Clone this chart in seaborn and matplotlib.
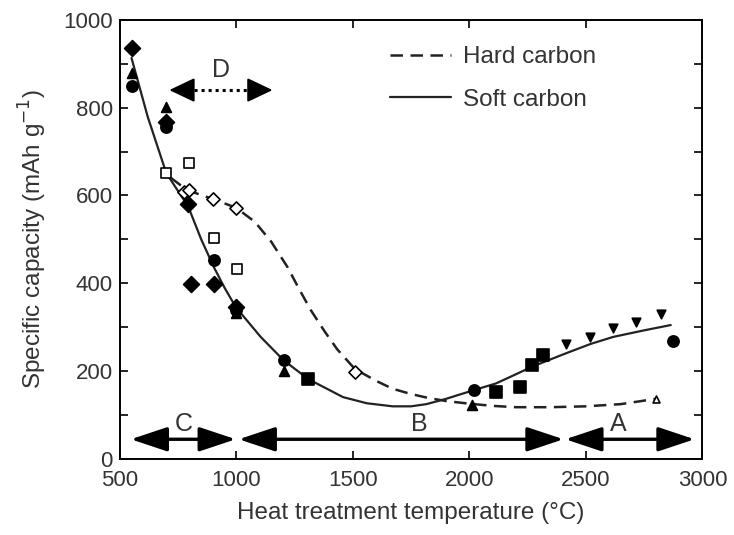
import matplotlib
matplotlib.use("Agg")
import matplotlib.pyplot as plt
import seaborn as sns
import pandas as pd

# ---------------- data ----------------
fd_x = [551, 700, 794, 807, 904, 998]
fd_y = [936, 768, 581, 399, 399, 346]
fc_x = [551, 700, 904, 998, 1203, 2020, 2872]
fc_y = [850, 756, 453, 340, 225, 157, 269]
ft_x = [551, 700, 998, 1203, 2012]
ft_y = [879, 802, 333, 200, 123]
os_x = [700, 798, 904, 1003]
os_y = [651, 674, 503, 432]
od_x = [775, 798, 900, 998, 1509]
od_y = [608, 613, 592, 572, 198]
fs_x = [1309, 2114, 2216, 2268, 2314]
fs_y = [182, 152, 165, 214, 237]
dt_x = [2416, 2519, 2617, 2715, 2821]
dt_y = [262, 278, 299, 312, 330]
ot_x = [2800]
ot_y = [137]

hard_x = [720, 790, 900, 1000, 1080, 1150, 1220, 1270, 1320, 1380, 1433, 1509, 1600,
          1671, 1750, 1816, 1900, 2000, 2100, 2200, 2350, 2500, 2650, 2800]
hard_y = [640, 612, 592, 572, 540, 495, 437, 387, 339, 290, 250, 205, 178,
          160, 148, 140, 132, 126, 121, 118, 118, 120, 125, 137]
soft_x = [551, 620, 700, 794, 850, 904, 950, 998, 1105, 1203, 1309, 1400, 1458,
          1560, 1671, 1750, 1816, 1900, 2020, 2114, 2200, 2268, 2416, 2520,
          2617, 2750, 2864]
soft_y = [913, 780, 651, 575, 500, 437, 390, 346, 278, 225, 182, 157, 141,
          127, 120, 120, 125, 137, 157, 172, 193, 210, 241, 262, 278, 293, 305]

regions = ["A", "B", "C", "D"]
xticks = [500, 1000, 1500, 2000, 2500, 3000]
yticks = [0, 200, 400, 600, 800, 1000]

# ---------------- plot ----------------
sns.set_theme(style="ticks")
plt.rcParams['font.family'] = ['Liberation Sans', 'DejaVu Sans']

TXT = "#333333"
fig = plt.figure(figsize=(7.34, 5.35), dpi=100)
ax = fig.add_axes([0.163, 0.142, 0.794, 0.821])

hard = pd.DataFrame({"x": hard_x, "y": hard_y})
soft = pd.DataFrame({"x": soft_x, "y": soft_y})
sns.lineplot(data=hard, x="x", y="y", ax=ax, color="#222222", lw=1.8,
             linestyle=(0, (5, 3)), sort=False, label="Hard carbon")
sns.lineplot(data=soft, x="x", y="y", ax=ax, color="#222222", lw=1.6,
             sort=False, label="Soft carbon")

def pts(xs, ys, marker, filled=True, s=60):
    sns.scatterplot(x=xs, y=ys, ax=ax, marker=marker, s=s,
                    color="black" if filled else "white",
                    edgecolor="black", linewidth=1.2, zorder=5, legend=False)

pts(fd_x, fd_y, "D", s=65)
pts(fc_x, fc_y, "o", s=65)
pts(ft_x, ft_y, "^", s=50)
pts(os_x, os_y, "s", filled=False, s=60)
pts(od_x, od_y, "D", filled=False, s=45)
pts(fs_x, fs_y, "s", s=65)
pts(dt_x, dt_y, "v", s=38)
pts(ot_x, ot_y, "^", filled=False, s=25)

# region arrows
def darrow(x0, x1, y):
    ax.annotate("", xy=(x1, y), xytext=(x0, y),
                arrowprops=dict(arrowstyle="<|-|>,head_length=1.5,head_width=0.5",
                                mutation_scale=15, color="black", lw=2.4,
                                shrinkA=0, shrinkB=0))

def head(xtip, xbase, y):
    ax.annotate("", xy=(xtip, y), xytext=(xbase, y),
                arrowprops=dict(arrowstyle="-|>,head_length=1.05,head_width=0.5",
                                mutation_scale=15, color="black", lw=1.5,
                                shrinkA=0, shrinkB=0))

darrow(548, 998, 45)
darrow(1011, 2404, 45)
darrow(2412, 2966, 45)

# dotted D arrow
ax.plot([790, 1080], [840, 840], color="black", lw=2.2, linestyle=(0, (1, 1.3)))
head(713, 805, 840)
head(1156, 1064, 840)

ax.text(777, 80, regions[2], fontsize=18, ha="center", va="center", color=TXT)
ax.text(1786, 80, regions[1], fontsize=18, ha="center", va="center", color=TXT)
ax.text(2638, 80, regions[0], fontsize=18, ha="center", va="center", color=TXT)
ax.text(935, 886, regions[3], fontsize=18, ha="center", va="center", color=TXT)

ax.set_xlim(500, 3000)
ax.set_ylim(0, 1000)
ax.set_xticks(xticks)
ax.set_yticks(yticks)
ax.set_yticks([100, 300, 500, 700, 900], minor=True)
ax.tick_params(axis="both", which="both", direction="in", top=True, right=True,
               labelsize=16, colors="black", labelcolor=TXT)
ax.tick_params(which="major", length=6, width=1.2)
ax.tick_params(which="minor", length=6, width=1.2)
ax.tick_params(axis="x", pad=8)
ax.tick_params(axis="y", pad=5)
for sp in ax.spines.values():
    sp.set_linewidth(1.4)
    sp.set_color("black")

ax.set_xlabel("Heat treatment temperature (°C)", fontsize=17.5, color=TXT, labelpad=8)
ax.set_ylabel("Specific capacity (mAh g$^{-1}$)", fontsize=17.5, color=TXT, labelpad=10)

leg = ax.legend(loc="upper left", bbox_to_anchor=(0.426, 0.99), frameon=False,
                fontsize=17.5, handlelength=2.5, labelspacing=0.85, handletextpad=0.5)
for t in leg.get_texts():
    t.set_color(TXT)

fig.savefig("out.png", dpi=100)
